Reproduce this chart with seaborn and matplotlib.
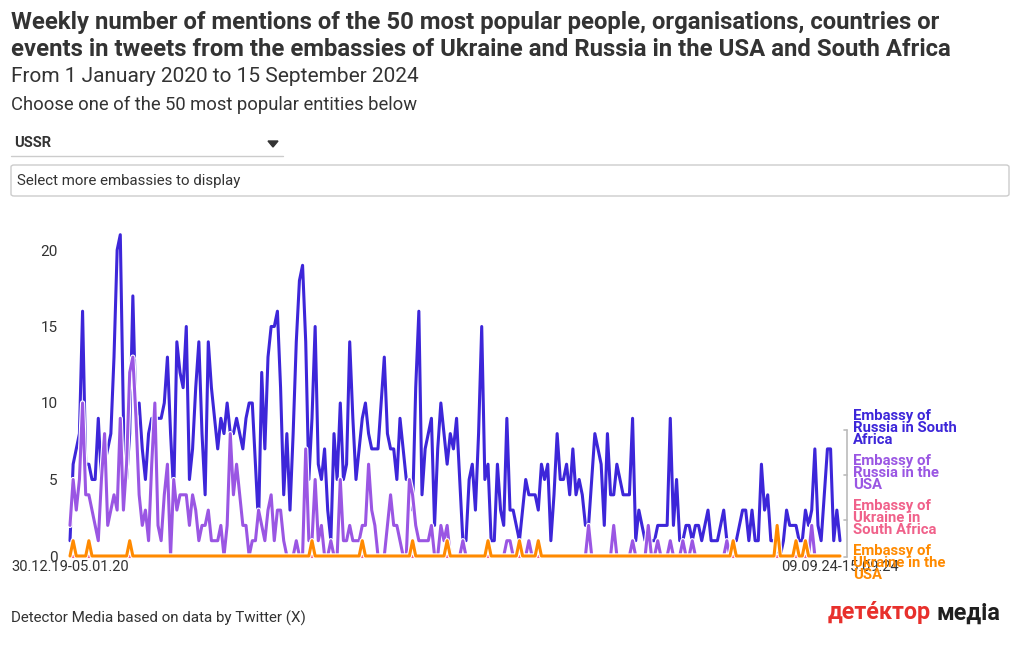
import numpy as np
import pandas as pd
import matplotlib
matplotlib.use("Agg")
import matplotlib.pyplot as plt
import matplotlib.patheffects as pe
from matplotlib.patches import FancyBboxPatch, Polygon
from matplotlib.lines import Line2D
import seaborn as sns

# ---------------- data ----------------
embassies = ["Embassy of Russia in South Africa", "Embassy of Russia in the USA",
             "Embassy of Ukraine in South Africa", "Embassy of Ukraine in the USA"]
legend_labels = ["Embassy of\nRussia in South\nAfrica", "Embassy of\nRussia in the\nUSA",
                 "Embassy of\nUkraine in\nSouth Africa", "Embassy of\nUkraine in the\nUSA"]
colors = ["#3d26d9", "#9a56e3", "#f0618a", "#ff8a00"]
first_week_label = "30.12.19-05.01.20"
last_week_label = "09.09.24-15.09.24"
n_weeks = 246

russia_sa = [
    1, 6, 7, 8, 16, 6, 6, 5, 5, 9,
    5, 6, 7, 8, 13, 20, 21, 9, 5, 8,
    17, 9, 10, 7, 5, 8, 9, 9, 9, 9,
    10, 13, 8, 4, 14, 12, 11, 15, 5, 7,
    11, 14, 8, 4, 14, 11, 9, 7, 9, 8,
    10, 8, 8, 9, 8, 7, 9, 10, 10, 6,
    2, 12, 7, 13, 15, 15, 16, 11, 4, 8,
    3, 8, 14, 18, 19, 14, 5, 9, 15, 6,
    5, 7, 3, 1, 8, 5, 10, 5, 6, 14,
    9, 5, 7, 9, 10, 8, 7, 7, 7, 10,
    13, 8, 7, 7, 5, 9, 7, 5, 5, 3,
    11, 16, 4, 7, 8, 9, 2, 7, 10, 8,
    6, 8, 7, 9, 5, 1, 1, 5, 6, 3,
    8, 15, 5, 6, 1, 1, 6, 3, 2, 9,
    3, 3, 2, 1, 3, 5, 4, 4, 4, 3,
    6, 5, 6, 1, 4, 8, 5, 5, 6, 4,
    7, 4, 5, 4, 2, 2, 5, 8, 7, 6,
    2, 8, 4, 4, 6, 5, 4, 4, 4, 9,
    1, 3, 2, 1, 1, 1, 1, 2, 2, 2,
    2, 9, 2, 5, 1, 1, 2, 2, 1, 2,
    2, 1, 2, 3, 1, 1, 1, 2, 3, 1,
    0, 1, 1, 2, 3, 3, 1, 3, 1, 1,
    6, 3, 4, 1, 1, 0, 0, 1, 3, 2,
    2, 2, 1, 1, 3, 2, 3, 7, 2, 1,
    4, 7, 7, 1, 3, 1,
]

russia_usa = [
    2, 5, 3, 5, 10, 4, 4, 3, 2, 1,
    5, 8, 2, 3, 4, 3, 9, 3, 6, 12,
    13, 9, 4, 2, 3, 1, 6, 10, 2, 1,
    4, 6, 0, 5, 3, 4, 4, 4, 2, 4,
    3, 1, 2, 2, 3, 1, 1, 1, 2, 0,
    2, 8, 4, 6, 4, 2, 2, 0, 1, 1,
    3, 2, 1, 3, 4, 1, 3, 3, 1, 0,
    0, 0, 1, 0, 0, 7, 1, 1, 5, 1,
    2, 0, 0, 1, 0, 0, 5, 1, 1, 2,
    1, 1, 1, 2, 2, 6, 3, 2, 0, 0,
    0, 2, 4, 2, 2, 1, 0, 0, 5, 4,
    2, 1, 1, 1, 1, 2, 0, 0, 2, 1,
    2, 0, 0, 0, 0, 1, 0, 0, 0, 0,
    0, 0, 0, 0, 0, 0, 0, 0, 0, 1,
    1, 0, 0, 0, 0, 0, 1, 0, 0, 0,
    0, 0, 0, 0, 0, 0, 0, 0, 0, 0,
    0, 0, 0, 0, 0, 2, 0, 0, 0, 0,
    0, 0, 0, 2, 0, 0, 0, 0, 0, 1,
    0, 0, 0, 0, 2, 0, 0, 1, 0, 0,
    0, 1, 0, 0, 0, 1, 0, 0, 1, 0,
    0, 0, 0, 0, 0, 0, 0, 0, 0, 1,
    0, 0, 0, 0, 0, 0, 0, 0, 0, 0,
    0, 0, 0, 0, 0, 0, 0, 0, 0, 0,
    0, 0, 0, 0, 0, 0, 2, 0, 0, 0,
    0, 0, 0, 0, 0, 0,
]

ukraine_sa = [0] * n_weeks

ukraine_usa = [
    0, 1, 0, 0, 0, 0, 1, 0, 0, 0,
    0, 0, 0, 0, 0, 0, 0, 0, 0, 1,
    0, 0, 0, 0, 0, 0, 0, 0, 0, 0,
    0, 0, 0, 0, 0, 0, 0, 0, 0, 0,
    0, 0, 0, 0, 0, 0, 0, 0, 0, 0,
    0, 0, 0, 0, 0, 0, 0, 0, 0, 0,
    0, 0, 0, 0, 0, 0, 0, 0, 0, 0,
    0, 0, 0, 0, 0, 0, 0, 1, 0, 0,
    0, 0, 0, 0, 0, 0, 0, 0, 0, 0,
    0, 0, 0, 1, 0, 0, 0, 0, 0, 0,
    0, 0, 0, 0, 0, 0, 0, 0, 0, 1,
    0, 0, 0, 0, 0, 0, 0, 0, 0, 0,
    1, 0, 0, 0, 0, 0, 0, 0, 0, 0,
    0, 0, 0, 1, 0, 0, 0, 0, 0, 0,
    0, 0, 0, 1, 0, 0, 0, 0, 0, 1,
    0, 0, 0, 0, 0, 0, 0, 0, 0, 0,
    0, 0, 0, 0, 0, 0, 0, 0, 0, 0,
    0, 0, 0, 0, 0, 0, 0, 0, 0, 0,
    0, 0, 0, 0, 0, 0, 0, 0, 0, 0,
    0, 0, 0, 0, 0, 0, 0, 0, 0, 0,
    0, 0, 0, 0, 0, 0, 0, 0, 0, 0,
    0, 1, 0, 0, 0, 0, 0, 0, 0, 0,
    0, 0, 0, 0, 0, 2, 0, 0, 0, 0,
    0, 1, 0, 0, 1, 0, 0, 0, 0, 0,
    0, 0, 0, 0, 0, 0,
]

y_ticks = [0, 5, 10, 15, 20]

# ---------------- build long frame ----------------
series = [russia_sa, russia_usa, ukraine_sa, ukraine_usa]
frames = []
for name, vals in zip(embassies, series):
    frames.append(pd.DataFrame({"week": np.arange(len(vals)), "mentions": vals, "embassy": name}))
df = pd.concat(frames, ignore_index=True)

# ---------------- figure ----------------
sns.set_theme(style="white")
plt.rcParams["font.family"] = ["Roboto", "DejaVu Sans"]
W, H = 1020, 650
fig = plt.figure(figsize=(W / 100, H / 100), dpi=100)

def fx(x):
    return x / W

def fy(y):
    return 1 - y / H

TXT = "#333333"

# axes: x 70..840 px, y 0 at 556 px
ax_left, ax_right = 70, 840
y0_px, ppu = 556, 15.3
ymax = 22
ax = fig.add_axes([fx(ax_left), fy(y0_px), (ax_right - ax_left) / W, ymax * ppu / H])

palette = dict(zip(embassies, colors))
sns.lineplot(data=df, x="week", y="mentions", hue="embassy", hue_order=embassies,
             palette=palette, linewidth=2.2, legend=False, ax=ax, clip_on=False)
for ln in ax.lines:
    ln.set_solid_joinstyle("round")
    ln.set_solid_capstyle("round")
    ln.set_path_effects([pe.Stroke(linewidth=3.8, foreground="white"), pe.Normal()])

ax.set_xlim(0, n_weeks - 1)
ax.set_ylim(0, ymax)
for s in ax.spines.values():
    s.set_visible(False)
ax.set_yticks(y_ticks)
ax.set_yticklabels([str(t) for t in y_ticks])
ax.set_xticks([0, n_weeks - 1])
ax.set_xticklabels([first_week_label, last_week_label])
ax.tick_params(axis="y", length=0, pad=9, labelsize=11, labelcolor=TXT)
ax.tick_params(axis="x", length=0, pad=3, labelsize=10.5, labelcolor=TXT)
ax.set_xlabel("")
ax.set_ylabel("")
ax.patch.set_alpha(0)

# ---------------- header texts ----------------
fig.text(fx(11), fy(23), "Weekly number of mentions of the 50 most popular people, organisations, countries or",
         fontsize=17.2, fontweight="bold", color=TXT, va="center", ha="left")
fig.text(fx(11), fy(50), "events in tweets from the embassies of Ukraine and Russia in the USA and South Africa",
         fontsize=17.2, fontweight="bold", color=TXT, va="center", ha="left")
fig.text(fx(11), fy(76), "From 1 January 2020 to 15 September 2024",
         fontsize=15, color=TXT, va="center", ha="left")
fig.text(fx(11), fy(105), "Choose one of the 50 most popular entities below",
         fontsize=13.2, color=TXT, va="center", ha="left")

# dropdown
fig.text(fx(14), fy(143), "USSR", fontsize=10.5, fontweight="bold", color=TXT, va="center", ha="left")
fig.add_artist(Line2D([fx(11), fx(283)], [fy(156), fy(156)], color="#cccccc", lw=1))
fig.add_artist(Polygon([[fx(268), fy(141)], [fx(278), fy(141)], [fx(273), fy(147)]],
                       closed=True, color="#333333", transform=fig.transFigure))

# select box
box = FancyBboxPatch((fx(11), fy(196)), fx(1009) - fx(11), fy(165) - fy(196),
                     boxstyle="round,pad=0,rounding_size=0.003", transform=fig.transFigure,
                     facecolor="white", edgecolor="#cccccc", lw=1)
fig.add_artist(box)
fig.text(fx(17), fy(181), "Select more embassies to display", fontsize=10.8, color=TXT,
         va="center", ha="left")

# ---------------- line-end labels ----------------
label_centers = [428, 473, 518, 563]
for lab, col, yc in zip(legend_labels, colors, label_centers):
    fig.text(fx(853), fy(yc), lab, fontsize=10.7, fontweight="bold", color=col,
             va="center", ha="left", linespacing=0.8)
# connector bracket
fig.add_artist(Line2D([fx(847), fx(847)], [fy(430), fy(557)], color="#bbbbbb", lw=1.2))
for yy in [430, 475, 520, 557]:
    fig.add_artist(Line2D([fx(844), fx(847)], [fy(yy), fy(yy)], color="#bbbbbb", lw=1.2))

# ---------------- footer ----------------
fig.text(fx(11), fy(618), "Detector Media based on data by Twitter (X)", fontsize=10.9,
         color=TXT, va="center", ha="left")
fig.text(fx(828), fy(613), "детéктор", fontsize=16.8, fontweight="bold", color="#e8302c",
         va="center", ha="left")
fig.text(fx(1000), fy(613), "медіа", fontsize=16.8, fontweight="bold", color="#1f1f1f",
         va="center", ha="right")

fig.savefig("out.png", dpi=100, facecolor="white")
